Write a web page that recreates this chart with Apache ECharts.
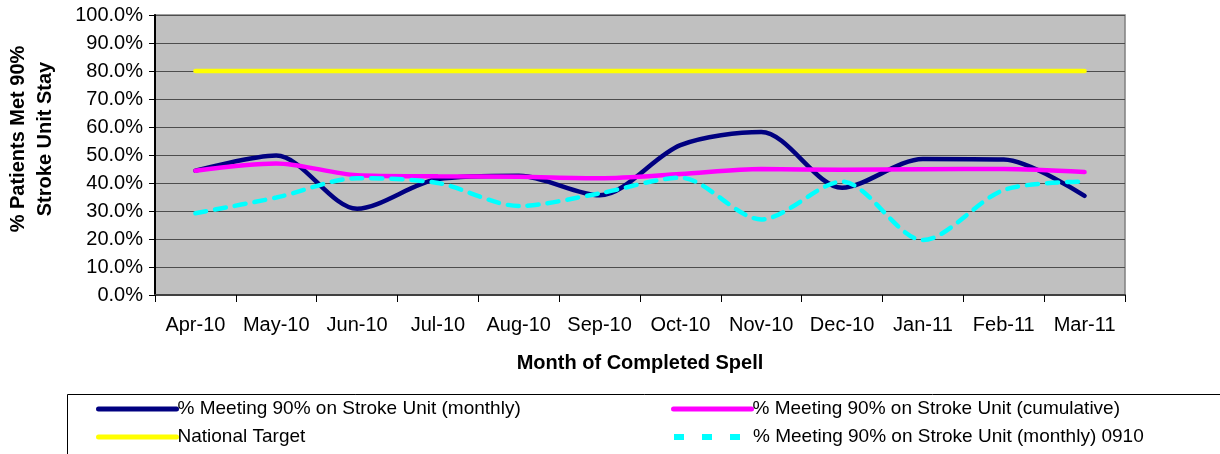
<!DOCTYPE html>
<html>
<head>
<meta charset="utf-8">
<script src="https://cdn.jsdelivr.net/npm/echarts@6/dist/echarts.min.js"></script>
<style>
html,body{margin:0;padding:0;background:#fff;}
#chart{width:1220px;height:454px;}
</style>
</head>
<body>
<div id="chart"></div>
<script>
var categories = ['Apr-10','May-10','Jun-10','Jul-10','Aug-10','Sep-10','Oct-10','Nov-10','Dec-10','Jan-11','Feb-11','Mar-11'];
var monthly = [44.4, 49.8, 30.8, 41.4, 42.6, 35.6, 53.5, 58.2, 38.3, 48.6, 48.4, 35.4];
var cumulative = [44.4, 47.0, 42.8, 42.4, 42.2, 41.7, 43.2, 45.0, 44.7, 44.9, 45.0, 43.9];
var nationalTarget = [80, 80, 80, 80, 80, 80, 80, 80, 80, 80, 80, 80];
var monthly0910 = [29.2, 34.8, 41.7, 40.0, 31.8, 36.3, 41.9, 27.0, 40.5, 19.6, 37.5, 40.5];
var yTicks = [0, 10, 20, 30, 40, 50, 60, 70, 80, 90, 100];

var names = {
  m: '% Meeting 90% on Stroke Unit (monthly)',
  c: '% Meeting 90% on Stroke Unit (cumulative)',
  t: 'National Target',
  p: '% Meeting 90% on Stroke Unit (monthly) 0910'
};

var FONT = "'Liberation Sans', Arial, sans-serif";
var chart = echarts.init(document.getElementById('chart'), null, {renderer: 'canvas'});

function lineSeries(name, data, color, dashed) {
  return {
    name: name,
    type: 'line',
    data: data,
    smooth: 0.3,
    symbol: 'none',
    showSymbol: false,
    lineStyle: {color: color, width: 4.5, type: dashed ? [11, 9] : 'solid', cap: 'round'},
    itemStyle: {color: color},
    emphasis: {disabled: true},
    animation: false
  };
}

function makeLegend(left, top, name, dashed) {
  return {
    orient: 'horizontal',
    left: left,
    top: top,
    itemWidth: 78,
    itemHeight: 14,
    itemGap: 0,
    padding: 0,
    selectedMode: false,
    data: [name],
    itemStyle: {opacity: 0},
    lineStyle: dashed ? {type: [10, 18], width: 6, cap: 'butt'} : {width: 5},
    textStyle: {fontFamily: FONT, fontSize: 19, color: '#000', lineHeight: 20, padding: [0, 0, 0, -4]}
  };
}

chart.setOption({
  backgroundColor: '#ffffff',
  animation: false,
  textStyle: {fontFamily: FONT},
  grid: {
    left: 155, right: 95, top: 15, bottom: 159,
    show: true, backgroundColor: '#C0C0C0', borderColor: '#808080', borderWidth: 1.5
  },
  legend: [
    makeLegend(96, 399, names.m, false),
    makeLegend(96, 427, names.t, false),
    makeLegend(671, 399, names.c, false),
    makeLegend(671, 427, names.p, true)
  ],
  xAxis: {
    type: 'category',
    data: categories,
    boundaryGap: true,
    axisLine: {show: true, lineStyle: {color: '#404040', width: 2}},
    axisTick: {show: true, length: 7, lineStyle: {color: '#000', width: 1}},
    axisLabel: {fontFamily: FONT, fontSize: 20, color: '#000', margin: 20, interval: 0},
    splitLine: {show: false},
    name: 'Month of Completed Spell',
    nameLocation: 'middle',
    nameGap: 58,
    nameTextStyle: {fontFamily: FONT, fontSize: 20, fontWeight: 'bold', color: '#000'}
  },
  yAxis: {
    type: 'value',
    min: yTicks[0],
    max: yTicks[yTicks.length - 1],
    interval: 10,
    axisLine: {show: true, lineStyle: {color: '#000', width: 2}},
    axisTick: {show: true, inside: false, length: 6, lineStyle: {color: '#000', width: 1}},
    axisLabel: {fontFamily: FONT, fontSize: 20, color: '#000', margin: 12,
      formatter: function (v) { return v.toFixed(1) + '%'; }},
    splitLine: {show: true, lineStyle: {color: '#4d4d4d', width: 1}}
  },
  graphic: [
    {
      type: 'text',
      x: 32, y: 139,
      rotation: Math.PI / 2,
      style: {
        text: '% Patients Met 90%\nStroke Unit Stay',
        fontFamily: FONT, fontSize: 20, fontWeight: 'bold', fill: '#000',
        align: 'center', verticalAlign: 'middle', lineHeight: 27
      }
    },
    {
      type: 'rect',
      shape: {x: 67.5, y: 394.5, width: 1300, height: 200},
      style: {fill: 'none', stroke: '#000', lineWidth: 1},
      silent: true
    }
  ],
  series: [
    lineSeries(names.t, nationalTarget, '#FFFF00', false),
    lineSeries(names.m, monthly, '#000080', false),
    lineSeries(names.c, cumulative, '#FF00FF', false),
    lineSeries(names.p, monthly0910, '#00FFFF', true)
  ]
});
</script>
</body>
</html>
